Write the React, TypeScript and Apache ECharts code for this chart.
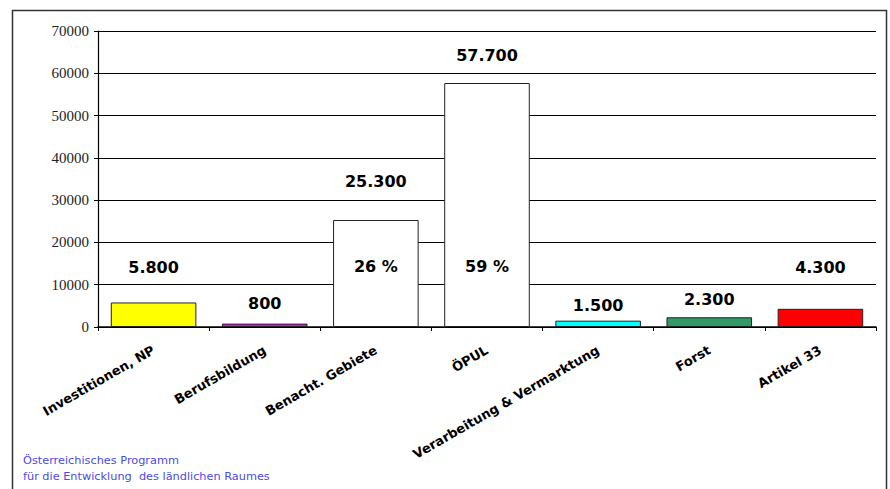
import React, { useEffect, useRef } from "react";
import * as echarts from "echarts";

const categories = [
  "Investitionen, NP",
  "Berufsbildung",
  "Benacht. Gebiete",
  "ÖPUL",
  "Verarbeitung & Vermarktung",
  "Forst",
  "Artikel 33",
];
const values = [5800, 800, 25300, 57700, 1500, 2300, 4300];
const shares: (number | null)[] = [null, null, 26, 59, null, null, null];
const barColors = ["#FFFF00", "#FF00FF", "#FFFFFF", "#FFFFFF", "#00FFFF", "#339966", "#FF0000"];
const labelGaps = [27, 12, 31, 20, 7, 10, 33];
const yTicks = { min: 0, max: 70000, interval: 10000 };
const footer = ["Österreichisches Programm", "für die Entwicklung  des ländlichen Raumes"];

const fmt = (v: number) => String(v).replace(/\B(?=(\d{3})+(?!\d))/g, ".");

export default function App() {
  const ref = useRef<HTMLDivElement>(null);
  useEffect(() => {
    if (!ref.current) return;
    const chart = echarts.init(ref.current, undefined, { renderer: "svg" });
    const boldFont = "DejaVu Sans";
    chart.setOption({
      animation: false,
      backgroundColor: "#FFFFFF",
      grid: { left: 98, right: 14, top: 31, bottom: 162, containLabel: false },
      graphic: [
        {
          type: "rect",
          shape: { x: 12.5, y: 10.5, width: 874, height: 490 },
          style: { fill: "none", stroke: "#333", lineWidth: 1.5 },
          silent: true,
        },
        {
          type: "text",
          left: 23,
          top: 455,
          style: { text: footer[0], fill: "#4B4BE6", font: "11.3px 'DejaVu Sans', sans-serif" },
        },
        {
          type: "text",
          left: 23,
          top: 471,
          style: { text: footer[1], fill: "#4B4BE6", font: "11.3px 'DejaVu Sans', sans-serif" },
        },
      ],
      xAxis: {
        type: "category",
        data: categories,
        axisLine: { show: true, lineStyle: { color: "#000", width: 1.5 } },
        axisTick: { show: true, alignWithLabel: false, length: 4, lineStyle: { color: "#000" } },
        axisLabel: {
          interval: 0,
          rotate: 30,
          margin: 22,
          color: "#000",
          fontFamily: boldFont,
          fontWeight: "bold",
          fontSize: 13,
        },
        splitLine: { show: false },
      },
      yAxis: {
        type: "value",
        min: yTicks.min,
        max: yTicks.max,
        interval: yTicks.interval,
        axisLine: { show: true, lineStyle: { color: "#000", width: 1.2 } },
        axisTick: { show: true, length: 4, lineStyle: { color: "#000" } },
        axisLabel: {
          color: "#222",
          fontFamily: "'Liberation Serif', 'Times New Roman', serif",
          fontSize: 15,
          margin: 9,
          formatter: (v: number) => String(v),
        },
        splitLine: { show: true, lineStyle: { color: "#000", width: 1 } },
      },
      series: [
        {
          type: "bar",
          barCategoryGap: "23%",
          data: values.map((v, i) => ({
            value: v,
            itemStyle: { color: barColors[i], borderColor: "#222", borderWidth: 1 },
            label: { distance: labelGaps[i] },
          })),
          label: {
            show: true,
            position: "top",
            color: "#000",
            fontFamily: boldFont,
            fontWeight: "bold",
            fontSize: 16,
            formatter: (p: any) => fmt(p.value),
          },
          z: 2,
        },
        {
          type: "bar",
          barGap: "-100%",
          barCategoryGap: "23%",
          data: values.map((v, i) => (shares[i] == null ? "-" : v)),
          itemStyle: { color: "rgba(0,0,0,0)", borderWidth: 0 },
          label: {
            show: true,
            position: "insideBottom",
            distance: 53,
            color: "#000",
            fontFamily: boldFont,
            fontWeight: "bold",
            fontSize: 16,
            formatter: (p: any) => `${shares[p.dataIndex]} %`,
          },
          silent: true,
          z: 3,
        },
      ],
    });
    return () => chart.dispose();
  }, []);
  return (
    <div
      ref={ref}
      style={{ position: "fixed", left: 0, top: 0, width: 890, height: 489, background: "#fff" }}
    />
  );
}
